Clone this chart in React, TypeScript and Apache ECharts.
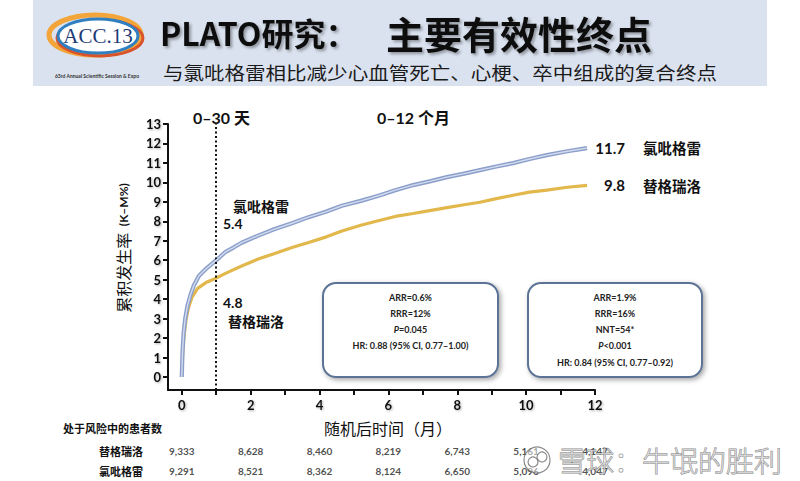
import React, { useEffect, useRef } from "react";
import * as echarts from "echarts";

// ---- data ----
const clopidogrelCurve: [number, number][] = [
  [0, 0], [0.02, 1.2], [0.05, 2.2], [0.1, 3.0], [0.17, 3.7], [0.25, 4.2], [0.35, 4.7],
  [0.5, 5.2], [0.7, 5.55], [0.9, 5.85], [1.1, 6.15], [1.25, 6.4], [1.5, 6.65], [1.74, 6.9],
  [2.2, 7.25], [2.7, 7.6], [3.2, 7.9], [3.66, 8.2], [4.2, 8.5], [4.65, 8.8], [5.2, 9.05],
  [5.76, 9.34], [6.2, 9.6], [6.72, 9.86], [7.2, 10.05], [7.7, 10.27], [8.2, 10.45],
  [8.66, 10.63], [9.1, 10.8], [9.62, 10.99], [10.1, 11.2], [10.6, 11.4], [11.2, 11.6], [11.77, 11.76],
];
const ticagrelorCurve: [number, number][] = [
  [0, 0], [0.02, 1.0], [0.06, 2.0], [0.12, 2.9], [0.2, 3.6], [0.3, 4.1], [0.46, 4.55],
  [0.7, 4.85], [0.96, 5.05], [1.3, 5.35], [1.74, 5.7], [2.2, 6.05], [2.7, 6.35], [3.2, 6.65],
  [3.66, 6.9], [4.2, 7.2], [4.65, 7.5], [5.2, 7.8], [5.76, 8.05], [6.2, 8.25], [6.72, 8.4],
  [7.2, 8.55], [7.7, 8.7], [8.2, 8.85], [8.66, 8.98], [9.1, 9.15], [9.62, 9.34], [10.1, 9.5],
  [10.6, 9.6], [11.2, 9.75], [11.77, 9.85],
];
const armNames = ["氯吡格雷", "替格瑞洛"];
const day30Values = ["5.4", "4.8"];
const month12Values = ["11.7", "9.8"];
const landmarkMonth = 1;
const xTickValues = [0, 1, 2, 3, 4, 5, 6, 7, 8, 9, 10, 11, 12];
const xLabelValues = [0, 2, 4, 6, 8, 10, 12];
const yTickValues = [0, 1, 2, 3, 4, 5, 6, 7, 8, 9, 10, 11, 12, 13];
const atRiskMonths = [0, 2, 4, 6, 8, 10, 12];
const atRiskTicagrelor = [9333, 8628, 8460, 8219, 6743, 5161, 4147];
const atRiskClopidogrel = [9291, 8521, 8362, 8124, 6650, 5096, 4047];
const boxLeftLines = ["ARR=0.6%", "RRR=12%", "P=0.045", "HR: 0.88 (95% CI, 0.77–1.00)"];
const boxRightLines = ["ARR=1.9%", "RRR=16%", "NNT=54*", "P<0.001", "HR: 0.84 (95% CI, 0.77–0.92)"];

const LATIN = "Lato, 'Noto Sans CJK SC', sans-serif";
const CJK = "'Noto Sans CJK SC', sans-serif";
const SHADOW = { textShadowColor: "rgba(0,0,0,0.3)", textShadowBlur: 2, textShadowOffsetX: 1, textShadowOffsetY: 1 };

function boxGroup(x: number, y: number, w: number, h: number, lines: string[]) {
  const children: any[] = [
    {
      type: "rect",
      shape: { x: 0, y: 0, width: w, height: h, r: 13 },
      style: {
        fill: "#ffffff", stroke: "#5b7395", lineWidth: 2,
        shadowBlur: 5, shadowColor: "rgba(0,0,0,0.35)", shadowOffsetX: 2, shadowOffsetY: 2,
      },
    },
  ];
  lines.forEach((line, i) => {
    const isP = line.startsWith("P");
    children.push({
      type: "text",
      x: w / 2,
      y: 14 + i * 16.3,
      style: {
        text: isP ? `{i|P}{b|${line.slice(1)}}` : `{b|${line}}`,
        align: "center",
        verticalAlign: "middle",
        rich: {
          i: { fontFamily: LATIN, fontSize: 9, fontWeight: "bold", fontStyle: "italic", fill: "#222" },
          b: { fontFamily: LATIN, fontSize: 9, fontWeight: "bold", fill: "#222" },
        },
      },
    });
  });
  return { type: "group", x, y, children };
}

export default function App() {
  const ref = useRef<HTMLDivElement>(null);
  useEffect(() => {
    if (!ref.current) return;
    const chart = echarts.init(ref.current, null, { renderer: "svg" });
    const atRiskData: any[] = [];
    atRiskMonths.forEach((m, i) => {
      atRiskData.push([m, armNames[1], atRiskTicagrelor[i]]);
      atRiskData.push([m, armNames[0], atRiskClopidogrel[i]]);
    });

    const graphic: any[] = [
      // header band
      { type: "rect", z: 0, shape: { x: 33, y: 0, width: 734, height: 86 }, style: { fill: "#dae2ef" } },
      // logo
      { type: "ellipse", shape: { cx: 95, cy: 35, rx: 46, ry: 20 }, style: { fill: "none", stroke: "#f3a53a", lineWidth: 5 } },
      { type: "ellipse", shape: { cx: 100, cy: 38, rx: 43, ry: 18 }, style: { fill: "none", stroke: "#d8532c", lineWidth: 3 } },
      { type: "ellipse", shape: { cx: 98, cy: 36, rx: 40, ry: 17 }, style: { fill: "#ffffff", stroke: "#2f7fc1", lineWidth: 3 } },
      {
        type: "text", x: 98, y: 36,
        style: { text: "ACC.13", fontFamily: "'Liberation Serif', serif", fontSize: 21, fill: "#1c3b77", align: "center", verticalAlign: "middle" },
      },
      {
        type: "text", x: 97, y: 76,
        style: { text: "63rd Annual Scientific Session & Expo", fontFamily: LATIN, fontSize: 5, fontWeight: "bold", fill: "#333", align: "center", verticalAlign: "middle" },
      },
      // title
      {
        type: "text", x: 160, y: 32,
        style: {
          text: "PLATO研究：", fontFamily: CJK, fontSize: 32, fontWeight: "bold", fill: "#111",
          verticalAlign: "middle", textShadowColor: "rgba(0,0,0,0.35)", textShadowBlur: 3, textShadowOffsetX: 2, textShadowOffsetY: 2,
        },
      },
      {
        type: "text", x: 386, y: 32,
        style: {
          text: "主要有效性终点", fontFamily: CJK, fontSize: 38, fontWeight: "bold", fill: "#111",
          verticalAlign: "middle", textShadowColor: "rgba(0,0,0,0.35)", textShadowBlur: 3, textShadowOffsetX: 2, textShadowOffsetY: 2,
        },
      },
      {
        type: "text", x: 163, y: 73, scaleX: 1.14,
        style: { text: "与氯吡格雷相比减少心血管死亡、心梗、卒中组成的复合终点", fontFamily: CJK, fontSize: 18, fill: "#1a1a1a", verticalAlign: "middle" },
      },
      // period labels
      { type: "text", x: 193, y: 117, style: { text: "0–30 天", fontFamily: LATIN, fontSize: 16, fontWeight: "bold", fill: "#111", verticalAlign: "middle" } },
      { type: "text", x: 377, y: 117, style: { text: "0–12 个月", fontFamily: LATIN, fontSize: 16, fontWeight: "bold", fill: "#111", verticalAlign: "middle" } },
      // 30 day labels
      { type: "text", x: 233, y: 206, style: { text: armNames[0], fontFamily: CJK, fontSize: 14, fontWeight: "bold", fill: "#111", verticalAlign: "middle" } },
      { type: "text", x: 223, y: 223, style: { text: day30Values[0], fontFamily: LATIN, fontSize: 14, fontWeight: "bold", fill: "#111", verticalAlign: "middle" } },
      { type: "text", x: 223, y: 302, style: { text: day30Values[1], fontFamily: LATIN, fontSize: 14, fontWeight: "bold", fill: "#111", verticalAlign: "middle" } },
      { type: "text", x: 228, y: 321, style: { text: armNames[1], fontFamily: CJK, fontSize: 14, fontWeight: "bold", fill: "#111", verticalAlign: "middle" } },
      // 12 month labels
      { type: "text", x: 625, y: 148, style: { text: month12Values[0], fontFamily: LATIN, fontSize: 15, fontWeight: "bold", fill: "#111", align: "right", verticalAlign: "middle" } },
      { type: "text", x: 643, y: 147, style: { text: armNames[0], fontFamily: CJK, fontSize: 14.5, fontWeight: "bold", fill: "#111", verticalAlign: "middle" } },
      { type: "text", x: 625, y: 185, style: { text: month12Values[1], fontFamily: LATIN, fontSize: 15, fontWeight: "bold", fill: "#111", align: "right", verticalAlign: "middle" } },
      { type: "text", x: 643, y: 185, style: { text: armNames[1], fontFamily: CJK, fontSize: 14.5, fontWeight: "bold", fill: "#111", verticalAlign: "middle" } },
      // stat boxes
      boxGroup(323, 283, 175, 94, boxLeftLines),
      boxGroup(528, 283, 174, 94, boxRightLines),
      // axis titles
      {
        type: "text", x: 123, y: 248, rotation: Math.PI / 2,
        style: {
          text: "{a|累积发生率}  {b|(K–M%)}", align: "center", verticalAlign: "middle",
          rich: {
            a: { fontFamily: CJK, fontSize: 16, fill: "#111" },
            b: { fontFamily: LATIN, fontSize: 12, fontWeight: "bold", fill: "#111" },
          },
        },
      },
      { type: "text", x: 388, y: 428, style: { text: "随机后时间（月）", fontFamily: CJK, fontSize: 16, fill: "#111", align: "center", verticalAlign: "middle" } },
      { type: "text", x: 63, y: 428, style: { text: "处于风险中的患者数", fontFamily: CJK, fontSize: 11, fontWeight: "bold", fill: "#111", verticalAlign: "middle" } },
      // watermark
      { type: "circle", z: 100, shape: { cx: 537, cy: 460, r: 13 }, style: { fill: "rgba(255,255,255,0.5)", stroke: "rgba(110,110,110,0.8)", lineWidth: 1.2 } },
      { type: "circle", z: 100, shape: { cx: 533, cy: 462, r: 5 }, style: { fill: "none", stroke: "rgba(110,110,110,0.8)", lineWidth: 1.2 } },
      { type: "circle", z: 100, shape: { cx: 542, cy: 457, r: 5 }, style: { fill: "none", stroke: "rgba(110,110,110,0.8)", lineWidth: 1.2 } },
      {
        type: "text", z: 100, x: 558, y: 460,
        style: { text: "雪球：牛氓的胜利", fontFamily: CJK, fontSize: 28, fontWeight: 300, fill: "rgba(255,255,255,0.55)", stroke: "rgba(110,110,110,0.8)", lineWidth: 1, verticalAlign: "middle" },
      },
    ];

    chart.setOption({
      animation: false,
      backgroundColor: "#ffffff",
      grid: [
        { left: 168, top: 124, width: 427, height: 266 },
        { left: 168, top: 441, width: 427, height: 46 },
      ],
      xAxis: [
        {
          type: "value", gridIndex: 0, min: -0.4, max: 12,
          axisLine: { show: true, onZero: false, lineStyle: { color: "#111", width: 2 } },
          axisTick: { show: true, customValues: xTickValues, length: 5, lineStyle: { color: "#111", width: 2 } },
          axisLabel: { show: true, customValues: xLabelValues, margin: 8, fontFamily: LATIN, fontSize: 13, fontWeight: "bold", color: "#111", ...SHADOW },
          splitLine: { show: false },
        },
        { type: "value", gridIndex: 1, min: -0.4, max: 12, show: false },
      ],
      yAxis: [
        {
          type: "value", gridIndex: 0, min: -0.67, max: 13,
          axisLine: { show: true, onZero: false, lineStyle: { color: "#111", width: 2 } },
          axisTick: { show: true, customValues: yTickValues, length: 5, lineStyle: { color: "#111", width: 2 } },
          axisLabel: { show: true, customValues: yTickValues, margin: 7, fontFamily: LATIN, fontSize: 13, fontWeight: "bold", color: "#111", ...SHADOW },
          splitLine: { show: false },
        },
        {
          type: "category", gridIndex: 1, data: armNames,
          axisLine: { show: false }, axisTick: { show: false },
          axisLabel: { margin: 25, fontFamily: CJK, fontSize: 11, fontWeight: "bold", color: "#111" },
        },
      ],
      series: [
        {
          name: armNames[1], type: "line", data: ticagrelorCurve, showSymbol: false, symbol: "none",
          lineStyle: { color: "#e2b74c", width: 3.2 }, z: 3,
          markLine: {
            silent: true, symbol: "none", label: { show: false },
            lineStyle: { type: [2, 2.5], color: "#111", width: 2 },
            data: [{ xAxis: landmarkMonth }],
          },
        },
        { name: armNames[0], type: "line", data: clopidogrelCurve, showSymbol: false, symbol: "none", lineStyle: { color: "#8c9fca", width: 4.2 }, z: 4 },
        { name: armNames[0] + "-inner", type: "line", data: clopidogrelCurve, showSymbol: false, symbol: "none", lineStyle: { color: "#d3dcef", width: 1.4 }, z: 5 },
        {
          type: "scatter", xAxisIndex: 1, yAxisIndex: 1, data: atRiskData, symbolSize: 1,
          itemStyle: { color: "rgba(0,0,0,0)" },
          label: {
            show: true, position: "inside", fontFamily: LATIN, fontSize: 10, fontWeight: "bold", color: "#222",
            formatter: (p: any) => Number(p.value[2]).toLocaleString("en-US"),
          },
        },
      ],
      graphic,
    });
    return () => chart.dispose();
  }, []);
  return <div ref={ref} style={{ position: "fixed", left: 0, top: 0, width: 800, height: 481, background: "#fff" }} />;
}
